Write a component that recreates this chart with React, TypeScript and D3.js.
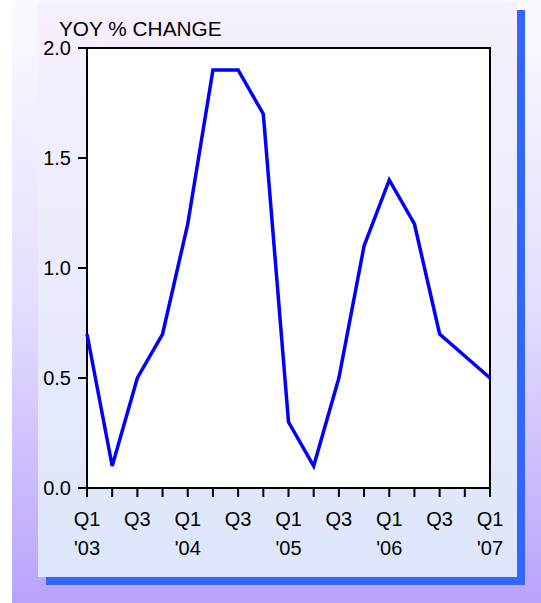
import React from "react";
import * as d3 from "d3";

const quarters = ["Q1","Q2","Q3","Q4","Q1","Q2","Q3","Q4","Q1","Q2","Q3","Q4","Q1","Q2","Q3","Q4","Q1"];
const years = ["'03","","","","'04","","","","'05","","","","'06","","","","'07"];
const values = [0.7,0.1,0.5,0.7,1.2,1.9,1.9,1.7,0.3,0.1,0.5,1.1,1.4,1.2,0.7,0.6,0.5];
const yTicks = [0, 0.5, 1.0, 1.5, 2.0];
const title = "YOY % CHANGE";

const W = 541, H = 603;
const plot = { left: 87, right: 490, top: 48, bottom: 488 };
const font = "Arial, 'Liberation Sans', sans-serif";

export default function App() {
  const x = d3.scaleLinear().domain([0, values.length - 1]).range([plot.left, plot.right]);
  const y = d3.scaleLinear().domain([0, 2]).range([plot.bottom, plot.top]);
  const line = d3.line<number>().x((_, i) => x(i)).y(d => y(d));
  const idx = d3.range(values.length);
  return (
    <svg width={W} height={H} style={{ position: "absolute", left: 0, top: 0, display: "block" }}>
      <defs>
        <linearGradient id="outer" x1="0" y1="0" x2="0" y2="1">
          <stop offset="0" stopColor="#fbfaff" />
          <stop offset="0.5" stopColor="#e6defd" />
          <stop offset="1" stopColor="#b9a3fb" />
        </linearGradient>
        <linearGradient id="panel" x1="0" y1="0" x2="0" y2="1">
          <stop offset="0" stopColor="#f7f0fe" />
          <stop offset="1" stopColor="#dde6fb" />
        </linearGradient>
      </defs>
      <rect x={0} y={0} width={W} height={H} fill="#ffffff" />
      <rect x={12} y={0} width={W - 12} height={H} fill="url(#outer)" />
      <rect x={46} y={10} width={479} height={575} fill="#3366ff" />
      <rect x={38} y={2} width={479} height={575} fill="url(#panel)" />
      <rect x={plot.left} y={plot.top} width={plot.right - plot.left} height={plot.bottom - plot.top} fill="#ffffff" stroke="#000" strokeWidth={2} />
      <text x={59} y={36} fontFamily={font} fontSize={20.8} fill="#000">{title}</text>
      {yTicks.map(t => (
        <g key={t}>
          <line x1={plot.left - 9} x2={plot.left} y1={y(t)} y2={y(t)} stroke="#000" strokeWidth={2} />
          <text x={71} y={y(t)} dy="0.36em" textAnchor="end" fontFamily={font} fontSize={20} fill="#000">{t.toFixed(1)}</text>
        </g>
      ))}
      {idx.map(i => (
        <g key={i}>
          <line x1={x(i)} x2={x(i)} y1={plot.bottom} y2={plot.bottom + 9} stroke="#000" strokeWidth={2} />
          {i % 2 === 0 && (
            <text x={x(i)} y={526} textAnchor="middle" fontFamily={font} fontSize={20} fill="#000">{quarters[i]}</text>
          )}
          {years[i] && (
            <text x={x(i)} y={555} textAnchor="middle" fontFamily={font} fontSize={20} fill="#000">{years[i]}</text>
          )}
        </g>
      ))}
      <path d={line(values) || ""} fill="none" stroke="#0000ff" strokeWidth={3.5} strokeLinejoin="miter" />
    </svg>
  );
}
